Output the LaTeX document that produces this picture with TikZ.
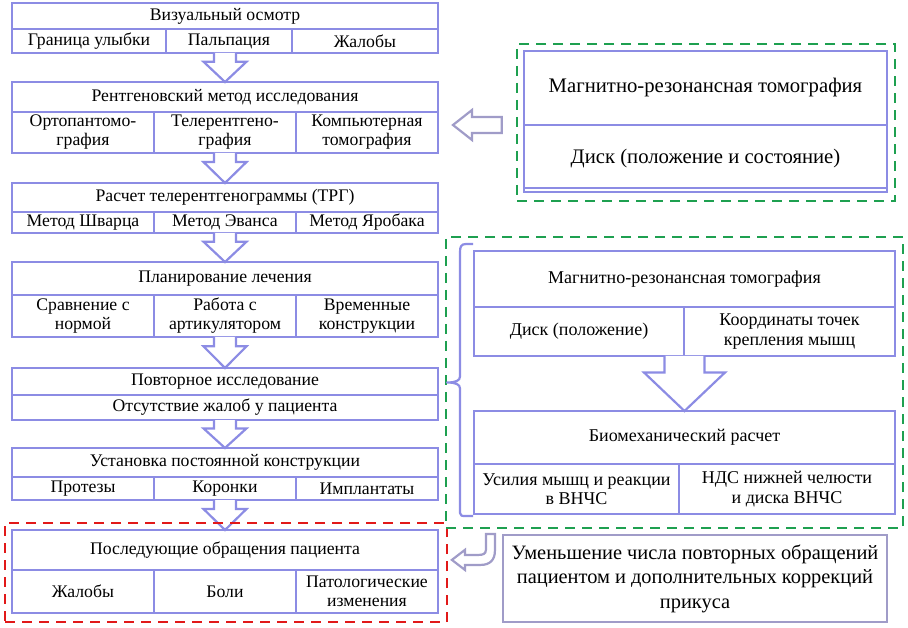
\documentclass[tikz,border=0pt]{standalone}
\usepackage{fontspec}
\setmainfont{Liberation Serif}
\usetikzlibrary{calc}
\definecolor{boxc}{RGB}{140,140,228}
\definecolor{arrg}{RGB}{160,156,200}
\definecolor{grn}{RGB}{30,160,80}
\definecolor{rd}{RGB}{225,25,25}
\newcommand\cellbox[7][]{%
  \pgfmathsetmacro\cw{#5-#3}\pgfmathsetmacro\ch{#6-#4}%
  \node[cell,minimum width=\cw pt,minimum height=\ch pt,#1] (#2) at ({(#3+#5)/2},{(#4+#6)/2}) {#7};}
\newcommand\blk[5]{%
  \pgfmathsetmacro\cw{#4-#2}\pgfmathsetmacro\ch{#5-#3}%
  \node[inner sep=0,outer sep=0,minimum width=\cw pt,minimum height=\ch pt] (#1) at ({(#2+#4)/2},{(#3+#5)/2}) {};}
\newcommand\downarr[5]{% from, to, shaft half, head half, shaft fraction
  \draw[barrow] let \p1=(#1.south), \p2=(#2.north) in
  (\x1-#3pt,\y1) -- (\x1-#3pt,{\y1-#5*(\y1-\y2)}) -- (\x1-#4pt,{\y1-#5*(\y1-\y2)}) -- (\x1,\y2)
  -- (\x1+#4pt,{\y1-#5*(\y1-\y2)}) -- (\x1+#3pt,{\y1-#5*(\y1-\y2)}) -- (\x1+#3pt,\y1);}
\tikzset{
  cell/.style={draw=boxc,line width=2.2pt,inner sep=0pt,outer sep=0pt,align=center,fill=white},
  barrow/.style={draw=boxc,line width=2.2pt,fill=white,line join=miter},
  garrow/.style={draw=arrg,line width=2.2pt,fill=white},
  gdash/.style={draw=grn,line width=2.6pt,dash pattern=on 10pt off 7pt},
  rdash/.style={draw=rd,line width=2.6pt,dash pattern=on 10pt off 7pt},
  lt/.style={font=\fontsize{17.7}{19}\selectfont},
}
\begin{document}
\begin{tikzpicture}[x=1pt,y=-1pt]
\fill[white] (0,0) rectangle (908,628);
\useasboundingbox (0,0) rectangle (908,628);
\begin{scope}[lt]
% block 1
\blk{b1}{12}{3}{438}{53}
\cellbox{b1h}{12}{3}{438}{29}{Визуальный осмотр}
\cellbox{b1a}{12}{29}{166}{53}{Граница улыбки}
\cellbox{b1b}{166}{29}{292}{53}{Пальпация}
\cellbox{b1c}{292}{29}{438}{53}{Жалобы}
% block 2
\blk{b2}{12}{82}{438}{153}
\cellbox{b2h}{12}{82}{438}{112}{Рентгеновский метод исследования}
\cellbox{b2a}{12}{112}{154}{153}{Ортопантомо-\\графия}
\cellbox{b2b}{154}{112}{296}{153}{Телерентгено-\\графия}
\cellbox{b2c}{296}{112}{438}{153}{Компьютерная\\томография}
% block 3
\blk{b3}{12}{183}{438}{233}
\cellbox{b3h}{12}{183}{438}{212}{Расчет телерентгенограммы (ТРГ)}
\cellbox{b3a}{12}{212}{154}{233}{Метод Шварца}
\cellbox{b3b}{154}{212}{296}{233}{Метод Эванса}
\cellbox{b3c}{296}{212}{438}{233}{Метод Яробака}
% block 4
\blk{b4}{12}{262}{438}{337}
\cellbox{b4h}{12}{262}{438}{295}{Планирование лечения}
\cellbox{b4a}{12}{295}{154}{337}{Сравнение с\\нормой}
\cellbox{b4b}{154}{295}{296}{337}{Работа с\\артикулятором}
\cellbox{b4c}{296}{295}{438}{337}{Временные\\конструкции}
% block 5
\blk{b5}{12}{368}{438}{420}
\cellbox{b5h}{12}{368}{438}{395}{Повторное исследование}
\cellbox{b5a}{12}{395}{438}{420}{Отсутствие жалоб у пациента}
% block 6
\blk{b6}{12}{448}{438}{500}
\cellbox{b6h}{12}{448}{438}{477}{Установка постоянной конструкции}
\cellbox{b6a}{12}{477}{154}{500}{Протезы}
\cellbox{b6b}{154}{477}{296}{500}{Коронки}
\cellbox{b6c}{296}{477}{438}{500}{Имплантаты}
% block 7
\blk{b7}{12}{530}{438}{613}
\cellbox{b7h}{12}{530}{438}{570}{Последующие обращения пациента}
\cellbox{b7a}{12}{570}{154}{613}{Жалобы}
\cellbox{b7b}{154}{570}{296}{613}{Боли}
\cellbox{b7c}{296}{570}{438}{613}{Патологические\\изменения}
\end{scope}
% vertical block arrows
\downarr{b1}{b2}{11}{21.5}{0.3}
\downarr{b2}{b3}{11}{21.5}{0.3}
\downarr{b3}{b4}{11}{21.5}{0.3}
\downarr{b4}{b5}{11}{21.5}{0.3}
\downarr{b5}{b6}{11}{21.5}{0.3}
\downarr{b6}{b7}{11}{21.5}{0.3}
% red dashed frame
\node[rdash,inner sep=0,minimum width=442pt,minimum height=99pt] (rfr) at (226,572.5) {};
% upper right MRT
\node[gdash,inner sep=0,minimum width=378pt,minimum height=157pt] (gfr1) at (706,122.5) {};
\cellbox[font=\fontsize{20.7}{22}\selectfont]{m1h}{524}{51}{887}{125}{Магнитно-резонансная томография}
\cellbox[font=\fontsize{20.7}{22}\selectfont]{m1a}{524}{125}{887}{192}{Диск (положение и состояние)}
\draw[draw=boxc,line width=2pt] (m1a.south west) ++(0,-4) -- ++(363,0);
\draw[garrow] let \p1=(b2.east), \p2=(gfr1.west), \p3=(m1a.north) in
  (\x1+15pt,\y3) -- (\x1+34pt,\y3+15pt) -- (\x1+34pt,\y3+8pt) -- (\x2-14pt,\y3+8pt)
  -- (\x2-14pt,\y3-8pt) -- (\x1+34pt,\y3-8pt) -- (\x1+34pt,\y3-15pt) -- cycle;
% second green frame
\node[gdash,inner sep=0,minimum width=457pt,minimum height=291pt] (gfr2) at (674.5,382.5) {};
\begin{scope}[font=\fontsize{18}{19.5}\selectfont]
\blk{ma}{474}{251}{895}{356}
\cellbox{mah}{474}{251}{895}{307}{Магнитно-резонансная томография}
\cellbox{maa}{474}{307}{684}{356}{Диск (положение)}
\cellbox{mab}{684}{307}{895}{356}{Координаты точек\\крепления мышц}
\blk{mb}{474}{411}{895}{514}
\cellbox{mbh}{474}{411}{895}{464}{Биомеханический расчет}
\cellbox{mba}{474}{464}{679}{514}{Усилия мышц и реакции\\в ВНЧС}
\cellbox{mbb}{679}{464}{895}{514}{НДС нижней челюсти\\и диска ВНЧС}
\end{scope}
\downarr{ma}{mb}{20}{40.5}{0.3}
% brace
\draw[draw=boxc,line width=2.2pt,line join=round] let \p1=(ma.north west), \p2=(mb.south west) in
  (\x1-1pt,\y1+7pt) -- (\x1-8pt,\y1+7pt) .. controls (\x1-13pt,\y1+7pt) and (\x1-14pt,\y1+4pt) .. (\x1-14pt,\y1-1pt)
  -- (\x1-14pt,{(\y1+\y2)/2+6pt}) .. controls (\x1-14pt,{(\y1+\y2)/2+2pt}) and (\x1-18pt,{(\y1+\y2)/2}) .. (\x1-27pt,{(\y1+\y2)/2})
  .. controls (\x1-18pt,{(\y1+\y2)/2}) and (\x1-14pt,{(\y1+\y2)/2-2pt}) .. (\x1-14pt,{(\y1+\y2)/2-6pt})
  -- (\x2-14pt,\y2+1pt) .. controls (\x2-14pt,\y2-2pt) and (\x2-12pt,\y2-2pt) .. (\x2-8pt,\y2-2pt) -- (\x2-1pt,\y2-2pt);
% bottom result box
\node[draw=arrg,line width=2.2pt,inner sep=0,minimum width=384pt,minimum height=87pt,align=center,
  font=\fontsize{20.4}{24.5}\selectfont] (res) at (695,578.5)
  {Уменьшение числа повторных обращений\\пациентом и дополнительных коррекций\\прикуса};
\draw[garrow,shift={(res.north west)}]
  (-16,0) -- (-16,16) .. controls (-16,20) and (-19,21) .. (-23,21) -- (-37,21) -- (-37,16) -- (-50,26)
  -- (-37,36) -- (-37,31) -- (-21,31) .. controls (-12,31) and (-7,26) .. (-7,17) -- (-7,0) -- cycle;
\end{tikzpicture}
\end{document}
